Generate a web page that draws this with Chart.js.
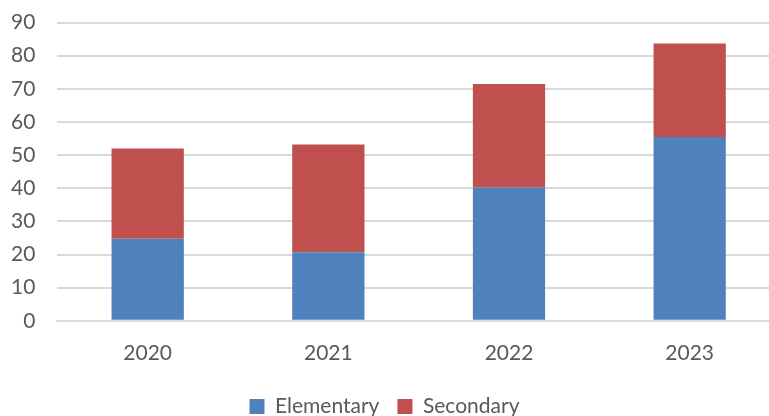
<!DOCTYPE html>
<html>
<head>
<meta charset="utf-8">
<script src="https://cdn.jsdelivr.net/npm/chart.js@4/dist/chart.umd.min.js"></script>
<style>
  html, body { margin: 0; padding: 0; background: #fff; overflow: hidden; }
  #wrap { width: 812px; height: 439px; margin-top: -12px; }
</style>
</head>
<body>
<div id="wrap"><canvas id="chart"></canvas></div>
<script>
const years = ['2020', '2021', '2022', '2023'];
const elementary = [24.8, 20.7, 40.2, 55.5];
const secondary = [27.2, 32.5, 31.3, 28.2];
const yTicks = [0, 10, 20, 30, 40, 50, 60, 70, 80, 90];

const textColor = '#595959';
const font = { family: 'Lato, "Noto Sans", sans-serif', size: 21 };

new Chart(document.getElementById('chart'), {
  type: 'bar',
  data: {
    labels: years,
    datasets: [
      { label: 'Elementary', data: elementary, backgroundColor: '#4F81BD' },
      { label: 'Secondary', data: secondary, backgroundColor: '#C0504D' }
    ]
  },
  options: {
    responsive: true,
    maintainAspectRatio: false,
    animation: false,
    layout: { padding: { top: 0, left: -11, right: 32, bottom: 0 } },
    datasets: { bar: { categoryPercentage: 1, barPercentage: 0.4 } },
    scales: {
      x: {
        stacked: true,
        grid: { display: false },
        border: { color: '#D9D9D9', width: 2 },
        ticks: { color: textColor, font: font, padding: 12 }
      },
      y: {
        stacked: true,
        min: 0,
        max: 90,
        afterBuildTicks: axis => { axis.ticks = yTicks.map(v => ({ value: v })); },
        grid: { color: '#D9D9D9', lineWidth: 2, drawTicks: false },
        border: { display: false },
        ticks: { color: textColor, font: font, padding: 22 }
      }
    },
    plugins: {
      legend: {
        position: 'bottom',
        labels: {
          color: textColor,
          font: font,
          boxWidth: 15,
          boxHeight: 15,
          padding: 18
        }
      },
      tooltip: { enabled: false }
    }
  }
});
</script>
</body>
</html>
